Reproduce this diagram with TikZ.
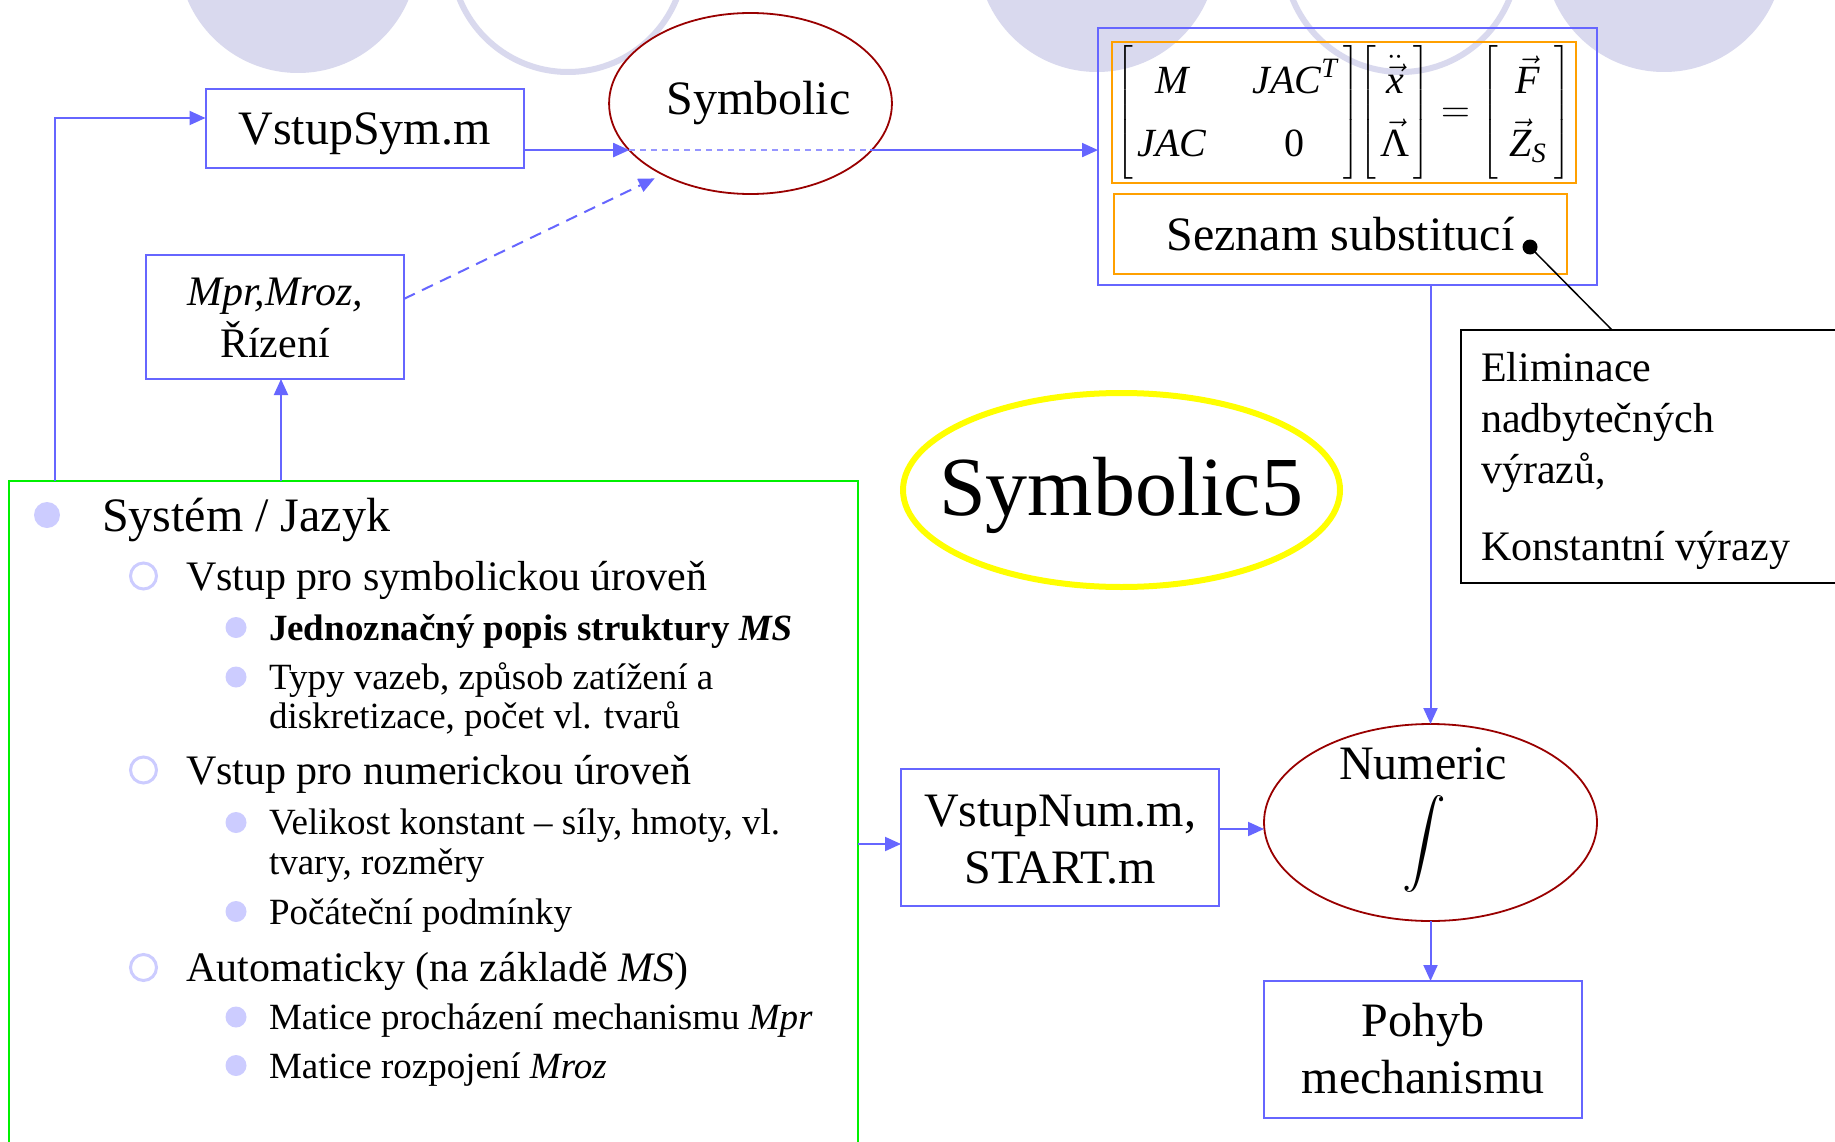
\RequirePackage{fix-cm}
\documentclass[tikz,border=0pt]{standalone}
\usepackage{amsmath}
\usepackage{graphicx}
\usepackage{fontspec}
\setmainfont{Liberation Serif}
\usetikzlibrary{arrows.meta,calc,shapes.geometric}
\definecolor{myblue}{RGB}{102,102,255}
\definecolor{mylightblue}{RGB}{150,150,255}
\definecolor{mydarkred}{RGB}{153,0,0}
\definecolor{mygreen}{RGB}{0,240,0}
\definecolor{myorange}{RGB}{255,160,0}
\definecolor{myyellow}{RGB}{255,255,0}
\definecolor{bgcirc}{RGB}{217,217,238}
\definecolor{bulcol}{RGB}{204,204,255}
\begin{document}
\begin{tikzpicture}[x=1pt,y=-1pt,
  bluebox/.style={rectangle, draw=myblue, line width=2pt, inner sep=0pt, outer sep=0pt},
  orbox/.style={rectangle, draw=myorange, line width=2pt, inner sep=0pt, outer sep=0pt},
  redell/.style={ellipse, draw=mydarkred, line width=1.8pt, fill=white, inner sep=0pt, outer sep=0pt},
  arr/.style={draw=myblue, line width=2pt, -{Triangle[length=16pt,width=14pt]}},
  dasharr/.style={arr, dash pattern=on 12pt off 8pt},
  dashin/.style={draw=mylightblue, line width=2pt, dash pattern=on 6pt off 5pt},
  fL/.style={font=\fontsize{48}{57}\selectfont},
  fM/.style={font=\fontsize{42}{52}\selectfont},
  fN/.style={font=\fontsize{37}{44}\selectfont},
  txt/.style={anchor=base west, inner sep=0pt, outer sep=0pt},
  bA/.style={circle, fill=bulcol, minimum size=26pt, inner sep=0pt},
  bB/.style={circle, draw=bulcol, line width=3pt, fill=white, minimum size=26pt, inner sep=0pt},
  bC/.style={circle, fill=bulcol, minimum size=21pt, inner sep=0pt},
]
\useasboundingbox (0,0) rectangle (1835,1142);
\fill[white] (0,0) rectangle (1835,1142);
% background decoration
\fill[bgcirc] (298,-47) circle[radius=120pt];
\draw[bgcirc, line width=6pt] (568,-45) circle[radius=117pt];
\fill[bgcirc] (1097,-48) circle[radius=120pt];
\draw[bgcirc, line width=6pt] (1401,-45) circle[radius=117pt];
\fill[bgcirc] (1664,-48) circle[radius=120pt];

% green system box
\node[draw=mygreen, line width=2pt, inner sep=0pt, outer sep=0pt, minimum width=849pt, minimum height=700pt, anchor=north west] (sys) at (9,481) {};

% bullet list
\node[bA] (b1) at (47,515) {};
\node[txt,fL] (t1) at (102,531) {Systém / Jazyk};
\node[bB] (b2) at (143.5,576) {};
\node[txt,fM] (t2) at (186,590) {Vstup pro symbolickou úroveň};
\node[bC] (b3) at (236,627.5) {};
\node[txt,fN] (t3) at (269,640) {\textbf{Jednoznačný popis struktury \textit{MS}}};
\node[bC] (b4) at (236,677) {};
\node[txt,fN] (t4) at (269,689.6) {Typy vazeb, způsob zatížení a};
\node[txt,fN] (t5) at (269,728.7) {diskretizace, počet vl. tvarů};
\node[bB] (b5) at (143.5,770) {};
\node[txt,fM] (t6) at (186,784) {Vstup pro numerickou úroveň};
\node[bC] (b6) at (236,822.5) {};
\node[txt,fN] (t7) at (269,834.8) {Velikost konstant – síly, hmoty, vl.};
\node[txt,fN] (t8) at (269,874) {tvary, rozměry};
\node[bC] (b7) at (236,911.5) {};
\node[txt,fN] (t9) at (269,924) {Počáteční podmínky};
\node[bB] (b8) at (143.5,967.5) {};
\node[txt,fM] (t10) at (186,981.7) {Automaticky (na základě \textit{MS})};
\node[bC] (b9) at (236,1017) {};
\node[txt,fN] (t11) at (269,1029.6) {Matice procházení mechanismu \textit{Mpr}};
\node[bC] (b10) at (236,1065.5) {};
\node[txt,fN] (t12) at (269,1078) {Matice rozpojení \textit{Mroz}};

% top-left boxes
\node[bluebox, fL, minimum width=318pt, minimum height=79pt, text height=33pt, text depth=0pt] (vsym) at (364.5,128.5) {VstupSym.m};
\node[bluebox, fM, align=center, minimum width=258pt, minimum height=124pt, text height=80pt, text depth=0pt] (mpr) at (275,317) {\textit{Mpr,Mroz,}\\Řízení};
\node[redell, fL, minimum width=273pt, minimum height=181pt, text height=23pt, text depth=0pt] (sym) at (750.5,103.5) {\hspace{16pt}Symbolic};

% matrix box
\node[bluebox, minimum width=499pt, minimum height=257pt] (matout) at (1347.5,156.5) {};
\node[orbox, minimum width=464pt, minimum height=141pt, font=\fontsize{40}{48}\selectfont] (mat) at (1344,112.5)
 {\renewcommand{\arraystretch}{1.32}$\left[\begin{array}{@{\hspace{4pt}}c@{\hspace{46pt}}c@{\hspace{6pt}}} \textit{M} & \textit{JAC}^{\textit{T}} \\ \textit{JAC} & \textup{0} \end{array}\right]\!\left[\begin{array}{@{\hspace{4pt}}c@{\hspace{4pt}}} \ddot{\vec{\textit{x}}} \\ \vec{\textup{Λ}} \end{array}\right] = \left[\begin{array}{@{\hspace{12pt}}c@{\hspace{8pt}}} \vec{\textit{F}} \\ \vec{\textit{Z}}_{\textit{S}} \end{array}\right]$};
\node[orbox, fL, minimum width=453pt, minimum height=80pt, text height=32pt, text depth=0pt] (sez) at (1340.5,234) {Seznam substitucí};
\node[circle, fill=black, minimum size=15pt, inner sep=0pt] (dot) at (1530,247) {};

% callout
\node[rectangle, draw=black, line width=2pt, minimum width=389pt, minimum height=253pt, anchor=north west, inner sep=0pt, outer sep=0pt] (call) at (1461,330) {};
\node[txt,fM] (c1) at (1481,381) {Eliminace};
\node[txt,fM] (c2) at (1481,432) {nadbytečných};
\node[txt,fM] (c3) at (1481,483) {výrazů,};
\node[txt,fM] (c4) at (1481,560) {Konstantní výrazy};
\draw[black, line width=1.5pt] (dot.center) -- ($(call.north west)+(151,0)$);

% Symbolic5
\node[ellipse, draw=myyellow, line width=6pt, minimum width=437pt, minimum height=194pt, inner sep=0pt] (sym5) at (1121.5,490) {};
\node[anchor=base, inner sep=0pt, font=\fontsize{84}{100}\selectfont] (sym5t) at (1121,515) {Symbolic5};

% numeric part
\node[bluebox, fL, align=center, minimum width=318pt, minimum height=137pt, text height=92pt, text depth=0pt] (vnum) at (1060,837) {VstupNum.m,\\START.m};
\node[redell, minimum width=333pt, minimum height=197pt] (num) at (1430.5,822.5) {};
\node[anchor=base, inner sep=0pt, fL] (numt) at (1423,779) {Numeric};
\node[inner sep=0pt] (numi) at (1424,843.5) {\resizebox*{!}{97pt}{$\displaystyle\int$}};
\node[bluebox, fL, align=center, minimum width=318pt, minimum height=137pt, text height=87pt, text depth=0pt] (poh) at (1423,1049.5) {Pohyb\\mechanismu};

% connectors
\coordinate (symin) at (sym.201.08);
\coordinate (symout) at (symin -| sym.338.92);
\coordinate (mprin) at ($(mpr.south)+(6,0)$);
\coordinate (vnumin) at ($(vnum.west)+(0,7)$);
\coordinate (vnumout) at ($(vnum.east)+(0,-8)$);
\draw[arr] ($(sys.north west)+(46,0)$) |- ($(vsym.west)+(0,-10.5)$);
\draw[arr] (mprin |- sys.north) -- (mprin);
\draw[arr] (vsym.east |- symin) -- (symin);
\draw[dashin] (symin) -- (symout);
\draw[arr] (symout) -- (matout.west |- symout);
\draw[dasharr, shorten >=9pt] (mpr.8) -- (sym.219.3);
\draw[arr] (num.north |- matout.south) -- (num.north);
\draw[arr] (sys.east |- vnumin) -- (vnumin);
\draw[arr] (vnumout) -- (vnumout -| num.west);
\draw[arr] (num.south) -- (num.south |- poh.north);
\end{tikzpicture}
\end{document}
